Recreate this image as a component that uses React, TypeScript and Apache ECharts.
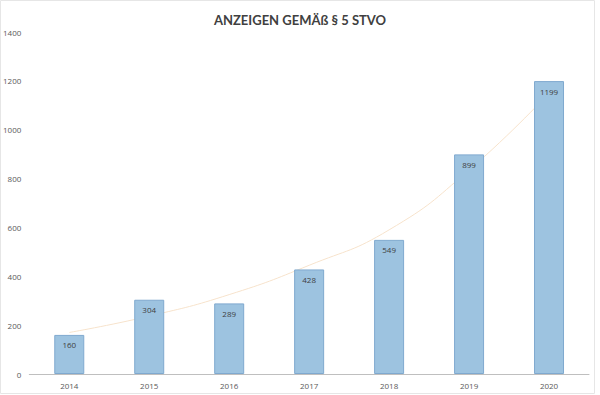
import React, { useEffect, useRef } from "react";
import * as echarts from "echarts";

const years = ["2014", "2015", "2016", "2017", "2018", "2019", "2020"];
const reports = [160, 304, 289, 428, 549, 899, 1199];
// exponential trendline
const trend = [170, 237, 325, 445, 590, 835, 1150];
const yTicks = { min: 0, max: 1400, interval: 200 };

export default function App() {
  const ref = useRef<HTMLDivElement>(null);
  useEffect(() => {
    const chart = echarts.init(ref.current!, null, { renderer: "svg" });
    chart.setOption({
      animation: false,
      backgroundColor: "#ffffff",
      title: {
        text: "ANZEIGEN GEMÄß § 5 STVO",
        left: "center",
        top: 8,
        textStyle: {
          fontFamily: "Lato",
          fontSize: 13,
          fontWeight: "bold",
          color: "#404040",
        },
      },
      graphic: [
        {
          type: "rect",
          shape: { x: 0.5, y: 0.5, width: 594, height: 393 },
          style: { fill: "none", stroke: "#e6e6e6", lineWidth: 1 },
          silent: true,
        },
      ],
      grid: { left: 29, right: 11, top: 32, bottom: 21, containLabel: false },
      xAxis: {
        type: "category",
        data: years,
        axisLine: { lineStyle: { color: "#bfbfbf", width: 1 } },
        axisTick: { show: false },
        axisLabel: { color: "#595959", fontSize: 8, fontFamily: "Open Sans", margin: 7 },
      },
      yAxis: {
        type: "value",
        min: yTicks.min,
        max: yTicks.max,
        interval: yTicks.interval,
        axisLine: { show: false },
        axisTick: { show: false },
        splitLine: { show: false },
        axisLabel: {
          color: "#595959",
          fontSize: 8,
          fontFamily: "Open Sans",
          margin: 8,
          formatter: (v: number) => String(v),
        },
      },
      series: [
        {
          type: "line",
          data: trend,
          smooth: true,
          symbol: "none",
          z: 1,
          lineStyle: { color: "#f7e3cc", width: 1 },
        },
        {
          type: "bar",
          data: reports,
          barWidth: 30,
          z: 2,
          itemStyle: { color: "#9dc3e0", borderColor: "#7fa9cf", borderWidth: 1 },
          label: {
            show: true,
            position: "insideTop",
            distance: 6,
            color: "#404040",
            fontSize: 8,
            fontFamily: "Open Sans",
          },
        },
      ],
    });
    return () => chart.dispose();
  }, []);
  return (
    <div
      ref={ref}
      style={{ position: "fixed", left: 0, top: 0, width: 600, height: 395 }}
    />
  );
}
